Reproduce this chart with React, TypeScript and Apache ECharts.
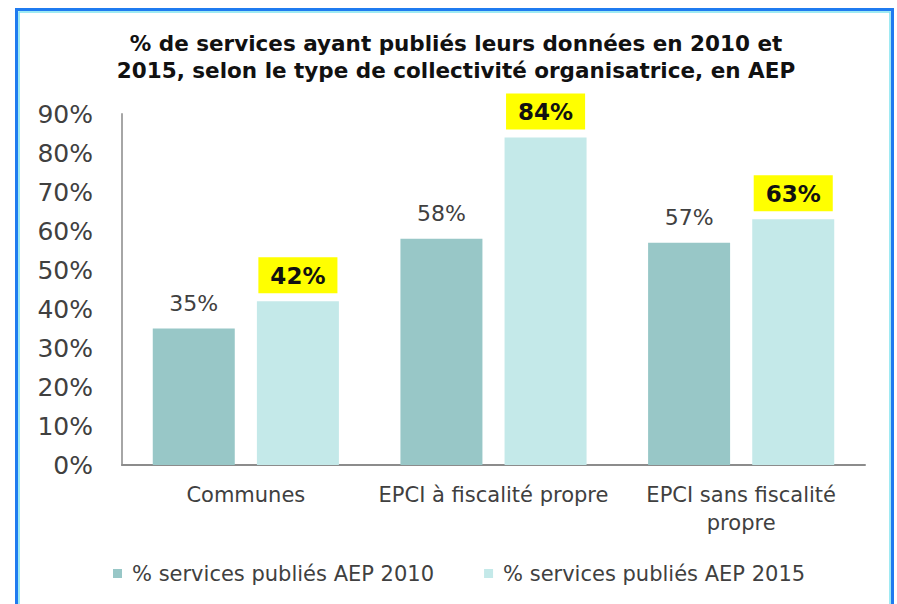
import React, { useEffect, useRef } from "react";
import * as echarts from "echarts";

const categories = ["Communes", "EPCI à fiscalité propre", "EPCI sans fiscalité\npropre"];
const values2010 = [35, 58, 57];
const values2015 = [42, 84, 63];
const seriesNames = ["% services publiés AEP 2010", "% services publiés AEP 2015"];
const yTicks = [0, 10, 20, 30, 40, 50, 60, 70, 80, 90];
const titleLines = [
  "% de services ayant publiés leurs données en 2010 et",
  "2015, selon le type de collectivité organisatrice, en AEP",
];

const FONT = "'DejaVu Sans', Verdana, sans-serif";

export default function App() {
  const ref = useRef<HTMLDivElement>(null);
  useEffect(() => {
    if (!ref.current) return;
    const chart = echarts.init(ref.current, null, { renderer: "svg" });
    chart.setOption({
      animation: false,
      backgroundColor: "#ffffff",
      textStyle: { fontFamily: FONT },
      graphic: [
        {
          type: "rect",
          shape: { x: 16.5, y: 9.5, width: 876, height: 640 },
          style: { fill: "none", stroke: "#1f7bf0", lineWidth: 3 },
          silent: true,
        },
        {
          type: "rect",
          shape: { x: 19, y: 12, width: 871, height: 640 },
          style: { fill: "none", stroke: "#7fe3f0", lineWidth: 1.5 },
          silent: true,
        },
        {
          type: "text",
          x: 456,
          y: 30,
          style: {
            text: titleLines.join("\n"),
            font: `bold 21.5px ${FONT}`,
            fill: "#111111",
            align: "center",
            verticalAlign: "top",
            lineHeight: 27,
          },
          silent: true,
        },
      ],
      legend: {
        data: seriesNames,
        bottom: 15,
        left: 108,
        itemWidth: 9,
        itemHeight: 9,
        itemGap: 50,
        icon: "rect",
        textStyle: { fontSize: 21, color: "#404040", fontFamily: FONT, padding: [0, 0, 0, 5] },
      },
      grid: { left: 122, right: 32, top: 114, bottom: 139, containLabel: false },
      xAxis: {
        type: "category",
        data: categories,
        axisLine: { lineStyle: { color: "#8c8c8c", width: 2 } },
        axisTick: { show: false },
        axisLabel: {
          color: "#404040",
          fontSize: 21,
          lineHeight: 28,
          margin: 16,
          interval: 0,
          fontFamily: FONT,
        },
      },
      yAxis: {
        type: "value",
        min: 0,
        max: 90,
        interval: 10,
        axisLine: { show: true, lineStyle: { color: "#a6a6a6", width: 2 } },
        axisTick: { show: false },
        splitLine: { show: false },
        axisLabel: {
          color: "#404040",
          fontSize: 25,
          margin: 29,
          fontFamily: FONT,
          formatter: (v: number) => (yTicks.includes(v) ? `${v}%` : ""),
        },
      },
      series: [
        {
          name: seriesNames[0],
          type: "bar",
          data: values2010,
          barWidth: 82,
          barGap: "27%",
          itemStyle: { color: "#98c7c7" },
          label: {
            show: true,
            position: "top",
            distance: 14,
            formatter: "{c}%",
            fontSize: 22,
            color: "#404040",
            fontFamily: FONT,
          },
        },
        {
          name: seriesNames[1],
          type: "bar",
          data: values2015,
          barWidth: 82,
          itemStyle: { color: "#c4e9e9" },
          label: {
            show: true,
            position: "top",
            distance: 8,
            formatter: "{c}%",
            fontSize: 23,
            fontWeight: "bold",
            color: "#111111",
            backgroundColor: "#ffff00",
            padding: [7, 12, 6, 12],
            fontFamily: FONT,
          },
        },
      ],
    });
    return () => chart.dispose();
  }, []);
  return (
    <div
      ref={ref}
      style={{ position: "absolute", left: 0, top: 0, width: 897, height: 604 }}
    />
  );
}
